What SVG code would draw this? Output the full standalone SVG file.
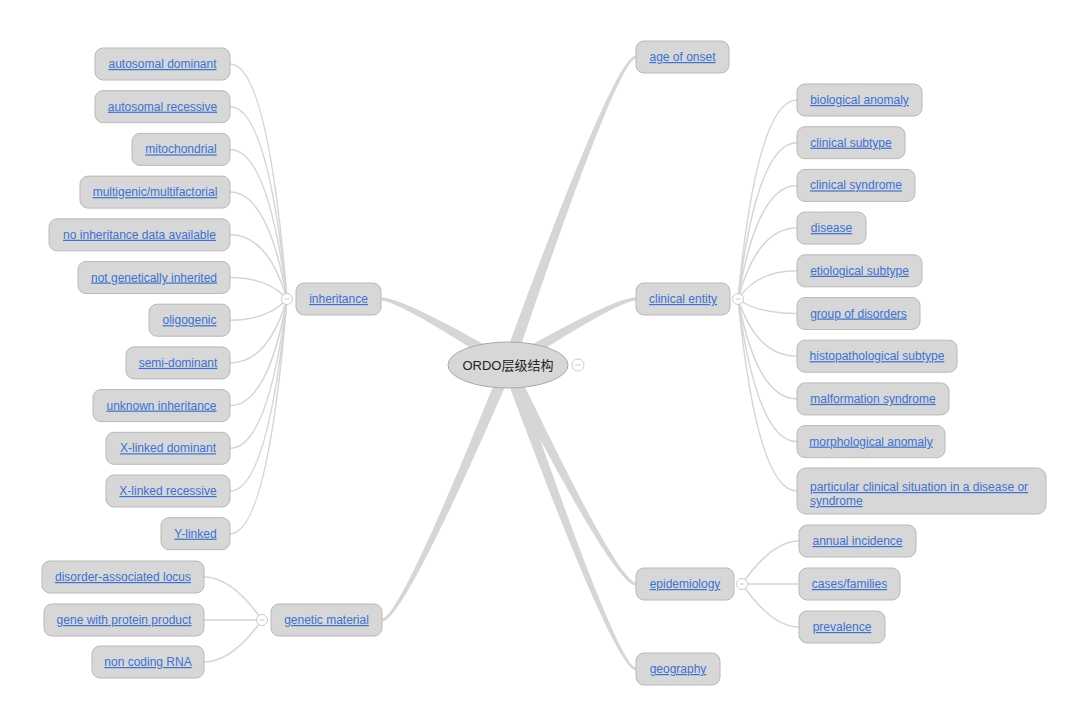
<svg xmlns="http://www.w3.org/2000/svg" width="1080" height="720" viewBox="0 0 1080 720">
<style>
.bg{fill:#ffffff}
.main{fill:#d6d6d6;stroke:none}
.sub{fill:none;stroke:#d5d5d5;stroke-width:1.5}
.box{fill:#d7d7d7;stroke:#b9b9b9;stroke-width:1}
.lbl{font-family:"Liberation Sans",Arial,sans-serif;font-size:12px;fill:#3a72d3;text-decoration:underline;text-anchor:middle}
.lbll{font-family:"Liberation Sans",Arial,sans-serif;font-size:12px;fill:#3a72d3;text-decoration:underline;text-anchor:start}
.root{fill:#d7d7d7;stroke:#a9a9a9;stroke-width:1}
.roott{font-family:"Liberation Sans","Noto Sans CJK SC",sans-serif;font-size:13px;fill:#222;text-anchor:middle}
.tog{fill:#ffffff;stroke:#cccccc;stroke-width:1}
.togm{stroke:#cccccc;stroke-width:1}
</style>
<rect class="bg" x="0" y="0" width="1080" height="720"/>
<g id="connectors">
  <path class="main" d="M513.66,366.99 Q617.45,59.05 636,58.5 L636,55.5 Q614.55,54.95 502.34,363.01 Z"/>
  <path class="main" d="M511.13,370.12 Q616.68,301.41 636,300.5 L636,297.5 Q615.32,296.59 504.87,359.88 Z"/>
  <path class="main" d="M502.62,367.65 Q614.68,586.12 636,585.5 L636,582.5 Q617.32,581.88 513.38,362.35 Z"/>
  <path class="main" d="M502.35,367.01 Q614.56,671.04 636,670.5 L636,667.5 Q617.44,666.96 513.65,362.99 Z"/>
  <path class="main" d="M511.15,359.89 Q401.68,296.59 381,297.5 L381,300.5 Q400.32,301.41 504.85,370.11 Z"/>
  <path class="main" d="M502.46,362.7 Q400.61,617.92 382,618.5 L382,621.5 Q403.39,622.08 513.54,367.3 Z"/>
  <path class="sub" d="M287,299 Q268,64 230,64"/>
  <path class="sub" d="M287,299 Q268,106.7 230,106.7"/>
  <path class="sub" d="M287,299 Q268,149.4 230,149.4"/>
  <path class="sub" d="M287,299 Q268,192.1 230,192.1"/>
  <path class="sub" d="M287,299 Q268,234.8 230,234.8"/>
  <path class="sub" d="M287,299 Q268,277.5 230,277.5"/>
  <path class="sub" d="M287,299 Q268,320.2 230,320.2"/>
  <path class="sub" d="M287,299 Q268,362.9 230,362.9"/>
  <path class="sub" d="M287,299 Q268,405.6 230,405.6"/>
  <path class="sub" d="M287,299 Q268,448.3 230,448.3"/>
  <path class="sub" d="M287,299 Q268,491 230,491"/>
  <path class="sub" d="M287,299 Q268,533.7 230,533.7"/>
  <path class="sub" d="M738,299 Q757,100 797,100"/>
  <path class="sub" d="M738,299 Q757,142.7 797,142.7"/>
  <path class="sub" d="M738,299 Q757,185.4 797,185.4"/>
  <path class="sub" d="M738,299 Q757,228.1 797,228.1"/>
  <path class="sub" d="M738,299 Q757,270.8 797,270.8"/>
  <path class="sub" d="M738,299 Q757,313.5 797,313.5"/>
  <path class="sub" d="M738,299 Q757,356.2 797,356.2"/>
  <path class="sub" d="M738,299 Q757,398.9 797,398.9"/>
  <path class="sub" d="M738,299 Q757,441.6 797,441.6"/>
  <path class="sub" d="M738,299 Q757,491 797,491"/>
  <path class="sub" d="M742,584 Q772,541 799,541"/>
  <path class="sub" d="M742,584 L799,584"/>
  <path class="sub" d="M742,584 Q772,627 799,627"/>
  <path class="sub" d="M262,620 Q232,577 204,577"/>
  <path class="sub" d="M262,620 L204,620"/>
  <path class="sub" d="M262,620 Q232,662 204,662"/>
</g>
<g id="root">
  <ellipse class="root" cx="508" cy="365" rx="60" ry="23"/>
  <text class="roott" x="508" y="369.5">ORDO层级结构</text>
  <circle class="tog" cx="578" cy="365" r="6"/>
  <line class="togm" x1="575" y1="365" x2="581" y2="365"/>
</g>
<g id="inheritance">
  <rect class="box" x="296" y="283" width="85" height="32" rx="8"/>
  <text class="lbl" x="338.5" y="303">inheritance</text>
  <circle class="tog" cx="287" cy="299" r="5.5"/>
  <line class="togm" x1="284.5" y1="299" x2="289.5" y2="299"/>
</g>
<g id="autosomal-dominant"><rect class="box" x="95" y="48" width="135" height="32" rx="8"/><text class="lbl" x="162.5" y="68">autosomal dominant</text></g>
<g id="autosomal-recessive"><rect class="box" x="95" y="90.7" width="135" height="32" rx="8"/><text class="lbl" x="162.5" y="110.7">autosomal recessive</text></g>
<g id="mitochondrial"><rect class="box" x="132" y="133.4" width="98" height="32" rx="8"/><text class="lbl" x="181" y="153.4">mitochondrial</text></g>
<g id="multigenic"><rect class="box" x="80" y="176.1" width="150" height="32" rx="8"/><text class="lbl" x="155" y="196.1">multigenic/multifactorial</text></g>
<g id="no-inheritance"><rect class="box" x="49" y="218.8" width="181" height="32" rx="8"/><text class="lbl" x="139.5" y="238.8">no inheritance data available</text></g>
<g id="not-genetically"><rect class="box" x="78" y="261.5" width="152" height="32" rx="8"/><text class="lbl" x="154" y="281.5">not genetically inherited</text></g>
<g id="oligogenic"><rect class="box" x="149" y="304.2" width="81" height="32" rx="8"/><text class="lbl" x="189.5" y="324.2">oligogenic</text></g>
<g id="semi-dominant"><rect class="box" x="126" y="346.9" width="104" height="32" rx="8"/><text class="lbl" x="178" y="366.9">semi-dominant</text></g>
<g id="unknown-inheritance"><rect class="box" x="93" y="389.6" width="137" height="32" rx="8"/><text class="lbl" x="161.5" y="409.6">unknown inheritance</text></g>
<g id="x-linked-dominant"><rect class="box" x="106" y="432.3" width="124" height="32" rx="8"/><text class="lbl" x="168" y="452.3">X-linked dominant</text></g>
<g id="x-linked-recessive"><rect class="box" x="106" y="475" width="124" height="32" rx="8"/><text class="lbl" x="168" y="495">X-linked recessive</text></g>
<g id="y-linked"><rect class="box" x="161" y="517.7" width="69" height="32" rx="8"/><text class="lbl" x="195.5" y="537.7">Y-linked</text></g>
<g id="genetic-material">
  <rect class="box" x="271" y="604" width="111" height="32" rx="8"/>
  <text class="lbl" x="326.5" y="624">genetic material</text>
  <circle class="tog" cx="262" cy="620" r="5.5"/>
  <line class="togm" x1="259.5" y1="620" x2="264.5" y2="620"/>
</g>
<g id="disorder-locus"><rect class="box" x="42" y="561" width="162" height="32" rx="8"/><text class="lbl" x="123" y="581">disorder-associated locus</text></g>
<g id="gene-protein"><rect class="box" x="44" y="604" width="160" height="32" rx="8"/><text class="lbl" x="124" y="624">gene with protein product</text></g>
<g id="non-coding"><rect class="box" x="92" y="646" width="112" height="32" rx="8"/><text class="lbl" x="148" y="666">non coding RNA</text></g>
<g id="age-of-onset"><rect class="box" x="636" y="41" width="93" height="32" rx="8"/><text class="lbl" x="682.5" y="61">age of onset</text></g>
<g id="clinical-entity">
  <rect class="box" x="636" y="283" width="94" height="32" rx="8"/>
  <text class="lbl" x="683" y="303">clinical entity</text>
  <circle class="tog" cx="738" cy="299" r="5.5"/>
  <line class="togm" x1="735.5" y1="299" x2="740.5" y2="299"/>
</g>
<g id="biological-anomaly"><rect class="box" x="797" y="84" width="125" height="32" rx="8"/><text class="lbl" x="859.5" y="104">biological anomaly</text></g>
<g id="clinical-subtype"><rect class="box" x="797" y="126.7" width="108" height="32" rx="8"/><text class="lbl" x="851" y="146.7">clinical subtype</text></g>
<g id="clinical-syndrome"><rect class="box" x="797" y="169.4" width="118" height="32" rx="8"/><text class="lbl" x="856" y="189.4">clinical syndrome</text></g>
<g id="disease"><rect class="box" x="797" y="212.1" width="69" height="32" rx="8"/><text class="lbl" x="831.5" y="232.1">disease</text></g>
<g id="etiological-subtype"><rect class="box" x="797" y="254.8" width="125" height="32" rx="8"/><text class="lbl" x="859.5" y="274.8">etiological subtype</text></g>
<g id="group-of-disorders"><rect class="box" x="797" y="297.5" width="123" height="32" rx="8"/><text class="lbl" x="858.5" y="317.5">group of disorders</text></g>
<g id="histopathological-subtype"><rect class="box" x="797" y="340.2" width="160" height="32" rx="8"/><text class="lbl" x="877" y="360.2">histopathological subtype</text></g>
<g id="malformation-syndrome"><rect class="box" x="797" y="382.9" width="152" height="32" rx="8"/><text class="lbl" x="873" y="402.9">malformation syndrome</text></g>
<g id="morphological-anomaly"><rect class="box" x="797" y="425.6" width="148" height="32" rx="8"/><text class="lbl" x="871" y="445.6">morphological anomaly</text></g>
<g id="particular-situation"><rect class="box" x="797" y="468" width="249" height="46" rx="9"/><text class="lbll" x="810" y="491">particular clinical situation in a disease or</text><text class="lbll" x="810" y="505">syndrome</text></g>
<g id="epidemiology">
  <rect class="box" x="636" y="568" width="98" height="32" rx="8"/>
  <text class="lbl" x="685" y="588">epidemiology</text>
  <circle class="tog" cx="742" cy="584" r="5.5"/>
  <line class="togm" x1="739.5" y1="584" x2="744.5" y2="584"/>
</g>
<g id="annual-incidence"><rect class="box" x="799" y="525" width="117" height="32" rx="8"/><text class="lbl" x="857.5" y="545">annual incidence</text></g>
<g id="cases-families"><rect class="box" x="799" y="568" width="101" height="32" rx="8"/><text class="lbl" x="849.5" y="588">cases/families</text></g>
<g id="prevalence"><rect class="box" x="799" y="611" width="86" height="32" rx="8"/><text class="lbl" x="842" y="631">prevalence</text></g>
<g id="geography"><rect class="box" x="636" y="653" width="84" height="32" rx="8"/><text class="lbl" x="678" y="673">geography</text></g>
</svg>
